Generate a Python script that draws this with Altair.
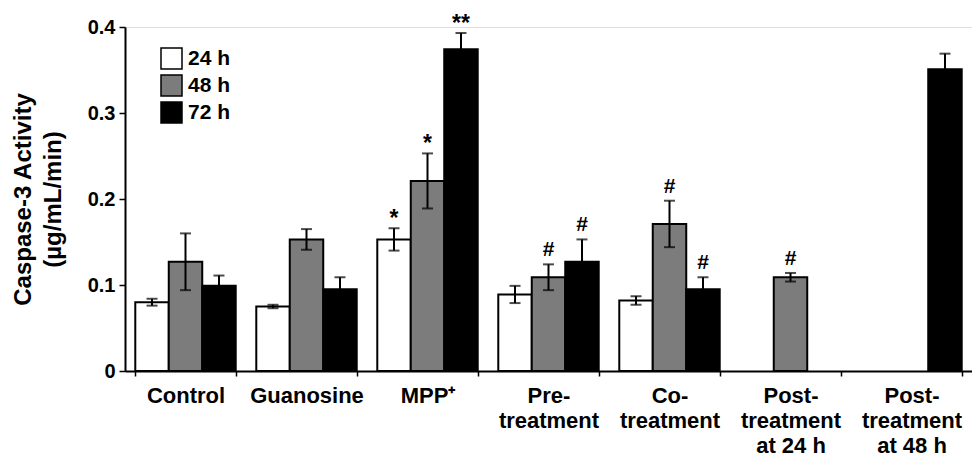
import altair as alt
import pandas as pd

groups = ["Control", "Guanosine", "MPP⁺", "Pre-\ntreatment", "Co-\ntreatment",
          "Post-\ntreatment\nat 24 h", "Post-\ntreatment\nat 48 h"]
times = ["24 h", "48 h", "72 h"]

# mean values (None = no bar)
v24 = [0.080, 0.075, 0.153, 0.089, 0.082, None, None]
v48 = [0.127, 0.153, 0.221, 0.109, 0.171, 0.109, None]
v72 = [0.099, 0.095, 0.374, 0.127, 0.095, None, 0.351]
# error values
e24 = [0.004, 0.002, 0.013, 0.010, 0.005, None, None]
e48 = [0.033, 0.012, 0.032, 0.015, 0.027, 0.005, None]
e72 = [0.012, 0.014, 0.019, 0.026, 0.014, None, 0.018]
# significance marks
s24 = ["", "", "*", "", "", "", ""]
s48 = ["", "", "*", "#", "#", "#", ""]
s72 = ["", "", "**", "#", "#", "", ""]

rows = []
for t, vals, errs, sigs in zip(times, [v24, v48, v72], [e24, e48, e72], [s24, s48, s72]):
    for g, v, e, s in zip(groups, vals, errs, sigs):
        if v is None:
            continue
        rows.append({"group": g, "time": t, "value": v, "lo": v - e, "hi": v + e, "sig": s})
df = pd.DataFrame(rows)

FONT = "Liberation Sans"

x_enc = alt.X("group:N", sort=groups, title=None,
              scale=alt.Scale(domain=groups, paddingInner=0.17, paddingOuter=0.085),
              axis=alt.Axis(labelAngle=0, labelFont=FONT, labelFontSize=22, labelFontWeight="bold",
                            labelColor="black", labelLineHeight=25, labelPadding=9,
                            labelExpr="split(datum.label, '\\n')", labelLimit=0,
                            tickSize=5, tickBand="extent", tickColor="black", tickWidth=1.5,
                            domainColor="black", domainWidth=2))
xo_enc = alt.XOffset("time:N", sort=times,
                     scale=alt.Scale(domain=times, paddingInner=0, paddingOuter=0))

base = alt.Chart(df).encode(x=x_enc, xOffset=xo_enc)

bars = base.mark_bar(stroke="black", strokeWidth=2).encode(
    y=alt.Y("value:Q", scale=alt.Scale(domain=[0, 0.4]),
            axis=alt.Axis(values=[0, 0.1, 0.2, 0.3, 0.4], grid=False,
                          labelExpr="datum.value == 0 ? '0' : format(datum.value, '.1f')",
                          labelFont=FONT, labelFontSize=20, labelFontWeight="bold", labelColor="black",
                          labelPadding=4, tickSize=6, tickColor="black", tickWidth=1.5,
                          domainColor="black", domainWidth=2,
                          title=["Caspase-3 Activity", "(µg/mL/min)"],
                          titleFont=FONT, titleFontSize=24, titleFontWeight="bold", titleColor="black",
                          titleAngle=270, titleAlign="center", titleBaseline="top",
                          titleLineHeight=30, titleX=-114, titleY=172)),
    fill=alt.Fill("time:N", sort=times,
                  scale=alt.Scale(domain=times, range=["white", "#7c7c7c", "black"]),
                  legend=alt.Legend(title=None, orient="none", legendX=35, legendY=20,
                                    symbolType="square", symbolSize=441,
                                    symbolStrokeColor="black", symbolStrokeWidth=1.5,
                                    labelFont=FONT, labelFontSize=21, labelFontWeight="bold",
                                    labelColor="black", labelOffset=5, rowPadding=0)),
)

rules = base.mark_rule(color="black", strokeWidth=2).encode(y="lo:Q", y2="hi:Q")
cap_hi = base.mark_tick(color="black", size=11, thickness=2, orient="horizontal").encode(y="hi:Q")
cap_lo = base.mark_tick(color="black", size=11, thickness=2, orient="horizontal").encode(y="lo:Q")

stars = base.transform_filter("indexof(datum.sig, '*') >= 0").mark_text(
    font=FONT, fontSize=23, fontWeight="bold", color="black", baseline="alphabetic", dy=-2
).encode(y="hi:Q", text="sig:N")
hashes = base.transform_filter("datum.sig == '#'").mark_text(
    font=FONT, fontSize=21, fontWeight="bold", color="black", baseline="alphabetic", dy=-8
).encode(y="hi:Q", text="sig:N")

chart = alt.layer(bars, rules, cap_hi, cap_lo, stars, hashes).properties(
    width=847, height=344, autosize="none",
    padding={"left": 117, "top": 19, "right": 0, "bottom": 90},
).configure_view(stroke=None).configure(background="white")

chart.save("out.html", embed_options={"renderer": "svg", "actions": False})
